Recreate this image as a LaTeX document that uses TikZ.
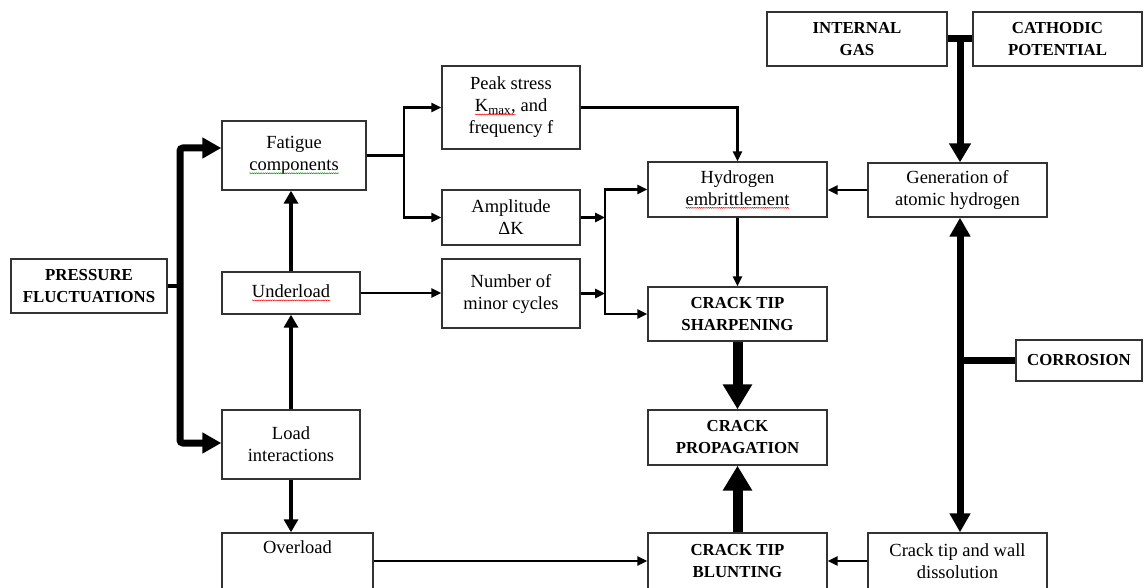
\documentclass[tikz,border=0pt]{standalone}
\usepackage{fontspec}
\setmainfont{Liberation Serif}
\usetikzlibrary{arrows.meta,calc,decorations.pathmorphing}

% word with a spell-check style wavy underline
\newcommand\wavy[2]{\tikz[x=1pt,y=1pt,baseline=(w.base)]{%
  \node[inner sep=0pt,outer sep=0pt,minimum width=0pt,minimum height=0pt,
        draw=none,align=left,anchor=base] (w) at (0,0) {#2};
  \draw[#1,line width=0.5pt,decorate,decoration={snake,amplitude=0.5pt,segment length=2.2pt}]
    ([yshift=-2.6pt]w.base west) -- ([yshift=-2.6pt]w.base east);}}

\begin{document}
\begin{tikzpicture}[x=1pt,y=-1pt,
  box/.style={draw=black!80, line width=1.4pt, align=center, inner sep=0pt,
    font=\fontsize{18.5}{22}\selectfont},
  hot/.style={box, font=\fontsize{16.8}{22}\selectfont\bfseries},
  arrT/.style={line width=2.6pt, -{Triangle[length=10pt,width=9pt]}},
  arrTT/.style={line width=2.6pt, {Triangle[length=10pt,width=9pt]}-{Triangle[length=10pt,width=9pt]}},
  arrM/.style={line width=4pt, -{Triangle[length=13pt,width=14pt]}},
  arrH/.style={line width=10pt, -{Triangle[length=25pt,width=28pt]}},
  busline/.style={line width=7pt},
  busTT/.style={line width=7pt, {Triangle[length=19pt,width=20pt]}-{Triangle[length=19pt,width=20pt]}},
  busT/.style={line width=7pt, -{Triangle[length=19pt,width=21pt]}},
  feed/.style={line width=4pt},
]
\useasboundingbox (0,0) rectangle (1144,588);
\fill[white] (0,0) rectangle (1144,588);

% boxes
\node[hot, minimum width=156pt, minimum height=54pt] (pf) at (89,286) {PRESSURE\\FLUCTUATIONS};
\node[box, minimum width=144pt, minimum height=69pt] (fat) at (294,155.5) {Fatigue\\\wavy{green!60!black}{components}};
\node[box, minimum width=138pt, minimum height=42pt] (und) at (291,293) {\wavy{red}{Underload}};
\node[box, minimum width=138pt, minimum height=69pt] (li) at (291,444.5) {Load\\interactions};
\node[box, minimum width=151pt, minimum height=56pt] (ovl) at (297.5,561) {Overload\\\strut};
\node[box, minimum width=138pt, minimum height=83pt] (ps) at (511,107.5) {Peak stress\\\wavy{red}{K\textsubscript{max},} and\\frequency f};
\node[box, minimum width=138pt, minimum height=55pt] (amp) at (511,217.5) {Amplitude\\ΔK};
\node[box, minimum width=138pt, minimum height=69pt] (nmc) at (511,293.5) {Number of\\minor cycles};
\node[box, minimum width=179pt, minimum height=55pt] (he) at (737.5,189.5) {Hydrogen\\\wavy{red}{embrittlement}};
\node[hot, minimum width=179pt, minimum height=54pt] (cts) at (737.5,314) {CRACK TIP\\SHARPENING};
\node[hot, minimum width=179pt, minimum height=55pt] (cp) at (737.5,437.5) {CRACK\\PROPAGATION};
\node[hot, minimum width=179pt, minimum height=56pt] (ctb) at (737.5,561) {CRACK TIP\\BLUNTING};
\node[box, minimum width=179pt, minimum height=54pt] (gah) at (957.5,190) {Generation of\\atomic hydrogen};
\node[box, minimum width=179pt, minimum height=56pt] (ctw) at (957.5,561) {Crack tip and wall\\dissolution};
\node[hot, minimum width=180pt, minimum height=54pt] (ig) at (857,39) {INTERNAL\\GAS};
\node[hot, minimum width=169pt, minimum height=54pt] (cat) at (1057.5,39) {CATHODIC\\POTENTIAL};
\node[hot, minimum width=126pt, minimum height=41pt] (cor) at (1079,360.5) {CORROSION};

% junction points
\coordinate (bT) at (180,148);
\coordinate (bB) at (180,443);
\coordinate (j1) at (404,156);
\coordinate (j2) at (605,250);
\coordinate (hv) at (960,39);

% pressure fluctuations feed both branches
\draw[feed] (pf.east) -- (pf.east -| bT);
\draw[busTT, rounded corners=3pt] (fat.west |- bT) -- (bT) -- (bB) -- (li.west |- bB);

% load branch
\draw[arrM] (und.north) -- (und.north |- fat.south);
\draw[arrM] (li.north) -- (li.north |- und.south);
\draw[arrM] (li.south) -- (li.south |- ovl.north);

% fatigue components split
\draw[line width=3.2pt] (fat.east) -- (fat.east -| j1);
\draw[arrTT] (ps.west) -- (ps.west -| j1) -- (amp.west -| j1) -- (amp.west);
\draw[arrT] (und.east) -- (und.east -| nmc.west);

% into hydrogen embrittlement / sharpening
\draw[arrT] (ps.east) -| (he.north);
\draw[arrT] (amp.east) -- (amp.east -| j2);
\draw[arrT] (nmc.east) -- (nmc.east -| j2);
\draw[arrTT] (he.west) -- (he.west -| j2) -- (cts.west -| j2) -- (cts.west);
\draw[arrT] (he.south) -- (cts.north);
\draw[arrT] (gah.west) -- (gah.west -| he.east);

% crack propagation
\draw[arrH] (cts.south) -- (cp.north);
\draw[arrH] (ctb.north) -- (cp.south);
\draw[arrT] (ovl.east) -- (ctb.west);
\draw[arrT] (ctw.west) -- (ctb.east);

% hydrogen sources
\draw[busline] (ig.east) -- (cat.west);
\draw[busT] (hv) -- (hv |- gah.north);

% corrosion
\draw[busline] (cor.west) -- (cor.west -| hv);
\draw[busTT] (hv |- gah.south) -- (hv |- ctw.north);
\end{tikzpicture}
\end{document}
